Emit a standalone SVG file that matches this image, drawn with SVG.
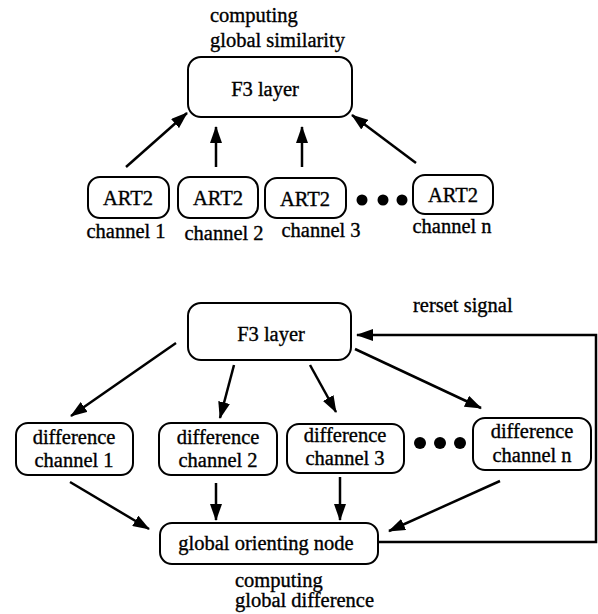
<svg xmlns="http://www.w3.org/2000/svg" width="598" height="614" viewBox="0 0 598 614">
<style>
.box{fill:#fff;stroke:#000;stroke-width:2}
text{font-family:"Liberation Serif","Times New Roman",Times,serif;font-size:20.5px;fill:#000;stroke:#000;stroke-width:0.35}
.m{text-anchor:middle}
.c{fill:none;stroke:#000;stroke-width:2.5}
</style>
<defs>
<marker id="ah" markerUnits="userSpaceOnUse" markerWidth="17" markerHeight="12" refX="16" refY="6" orient="auto">
<path d="M0,0 L17,6 L0,12 z" fill="#000"/>
</marker>
</defs>
<rect width="598" height="614" fill="#fff"/>
<text x="210" y="22">computing</text>
<text x="210" y="47">global similarity</text>
<g id="f3top"><rect class="box" x="188" y="57" width="164" height="60" rx="13"/><text class="m" x="265" y="96">F3 layer</text></g>
<g id="art1"><rect class="box" x="88" y="177" width="81" height="41" rx="12"/><text class="m" x="128" y="205">ART2</text><text class="m" x="126" y="238">channel 1</text></g>
<g id="art2"><rect class="box" x="178" y="177" width="80" height="41" rx="12"/><text class="m" x="218" y="205">ART2</text><text class="m" x="224" y="240">channel 2</text></g>
<g id="art3"><rect class="box" x="265" y="178" width="81" height="40" rx="12"/><text class="m" x="305" y="206">ART2</text><text class="m" x="321" y="237">channel 3</text></g>
<g id="dots1"><circle cx="362" cy="200" r="5.5"/><circle cx="383" cy="200" r="5.5"/><circle cx="402" cy="200" r="5.5"/></g>
<g id="artn"><rect class="box" x="413" y="175" width="80" height="39" rx="12"/><text class="m" x="453" y="202">ART2</text><text class="m" x="452" y="233">channel n</text></g>
<text x="413" y="312">rerset signal</text>
<g id="f3bot"><rect class="box" x="188" y="303" width="163" height="57" rx="13"/><text class="m" x="271" y="341">F3 layer</text></g>
<g id="d1"><rect class="box" x="16" y="423" width="117" height="52" rx="12"/><text class="m" x="74" y="444">difference</text><text class="m" x="74" y="467">channel 1</text></g>
<g id="d2"><rect class="box" x="159" y="423" width="118" height="52" rx="12"/><text class="m" x="218" y="444">difference</text><text class="m" x="218" y="467">channel 2</text></g>
<g id="d3"><rect class="box" x="287" y="424" width="117" height="49" rx="12"/><text class="m" x="345" y="442">difference</text><text class="m" x="345" y="465">channel 3</text></g>
<g id="dots2"><circle cx="420" cy="443" r="6"/><circle cx="440" cy="443" r="6"/><circle cx="460" cy="443" r="6"/></g>
<g id="dn"><rect class="box" x="473" y="418" width="118" height="52" rx="12"/><text class="m" x="532" y="438">difference</text><text class="m" x="532" y="462">channel n</text></g>
<g id="gon"><rect class="box" x="160" y="523" width="218" height="41" rx="12"/><text class="m" x="266" y="550">global orienting node</text></g>
<text x="235" y="587">computing</text>
<text x="235" y="607">global difference</text>
<g id="connectors">
<line class="c" x1="126" y1="167" x2="187" y2="113" marker-end="url(#ah)"/>
<line class="c" x1="216" y1="167" x2="216" y2="127" marker-end="url(#ah)"/>
<line class="c" x1="302" y1="167" x2="302" y2="127" marker-end="url(#ah)"/>
<line class="c" x1="416" y1="163" x2="352" y2="115" marker-end="url(#ah)"/>
<line class="c" x1="176" y1="343" x2="71" y2="416" marker-end="url(#ah)"/>
<line class="c" x1="234" y1="365" x2="220" y2="418" marker-end="url(#ah)"/>
<line class="c" x1="310" y1="365" x2="336" y2="412" marker-end="url(#ah)"/>
<line class="c" x1="355" y1="349" x2="481" y2="408" marker-end="url(#ah)"/>
<line class="c" x1="70" y1="482" x2="149" y2="529" marker-end="url(#ah)"/>
<line class="c" x1="216" y1="483" x2="216" y2="520" marker-end="url(#ah)"/>
<line class="c" x1="340" y1="477" x2="340" y2="520" marker-end="url(#ah)"/>
<line class="c" x1="500" y1="481" x2="389" y2="531" marker-end="url(#ah)"/>
<polyline class="c" points="378,542 596,542 596,335 357,335" marker-end="url(#ah)"/>
</g>
</svg>
